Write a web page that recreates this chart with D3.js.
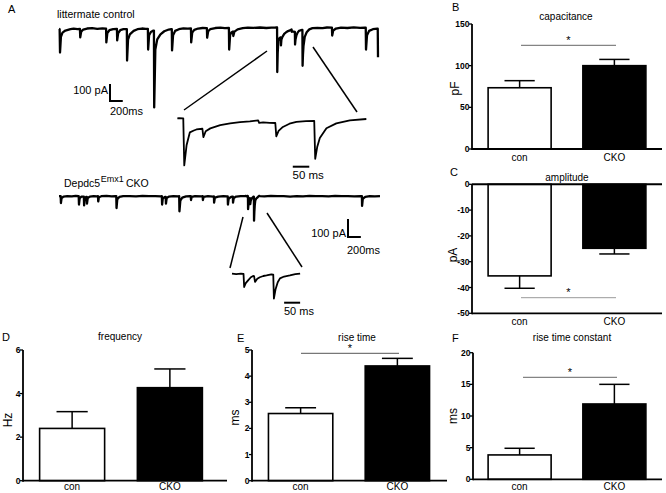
<!DOCTYPE html>
<html><head><meta charset="utf-8">
<script src="https://cdn.jsdelivr.net/npm/d3@7"></script>
<style>
html,body{margin:0;padding:0;background:#fff;}
text{font-family:"Liberation Sans",Arial,sans-serif;fill:#000;}
</style></head>
<body>
<svg id="fig" width="666" height="493"></svg>
<script>
// ---------------- DATA ----------------
const categories = ["con", "CKO"];

const capacitanceMean = [73.5, 100];
const capacitanceSem  = [8.5, 7.5];
const amplitudeMean   = [-35.5, -24.8];
const amplitudeSem    = [4.8, 2.2];
const frequencyMean   = [2.4, 4.27];
const frequencySem    = [0.77, 0.86];
const riseTimeMean    = [2.57, 4.39];
const riseTimeSem     = [0.22, 0.29];
const riseConstMean   = [3.85, 11.9];
const riseConstSem    = [1.05, 3.1];

const capacitanceTicks = [0, 50, 100, 150];
const amplitudeTicks   = [0, -10, -20, -30, -40, -50];
const frequencyTicks   = [0, 2, 4, 6];
const riseTimeTicks    = [0, 1, 2, 3, 4, 5];
const riseConstTicks   = [0, 5, 10, 15, 20];

// traces: [time ms, current pA]
const controlTrace = [
 [0,-8],[10,-9],[16,-147],[30,-55],[55,-30],[100,-18],[180,-10],[230,-7],[290,-9],
 [328,-8],[333,-58],[348,-24],[380,-12],[440,-6],[520,-4],[600,-8],[680,-5],
 [738,-7],[742,-88],[758,-32],[790,-16],[850,-9],
 [908,-8],[912,-76],[928,-32],[960,-16],[1010,-10],
 [1063,-9],[1067,-194],[1082,-72],[1110,-40],[1170,-20],[1230,-10],[1300,-6],[1360,-8],
 [1393,-8],[1397,-130],[1412,-46],[1440,-26],[1480,-18],
 [1488,-18],[1492,-470],[1510,-130],[1540,-70],[1590,-40],[1650,-22],[1720,-12],[1760,-10],
 [1768,-10],[1772,-135],[1788,-45],[1820,-20],[1880,-10],[1950,-5],[2020,-7],
 [2068,-6],[2072,-88],[2088,-30],[2120,-14],[2180,-6],[2250,-3],
 [2318,-4],[2322,-60],[2338,-22],[2370,-10],[2450,-3],[2530,-1],[2600,-4],
 [2663,-3],[2667,-130],[2682,-45],[2700,-30],[2728,-24],[2732,-50],[2750,-24],
 [2800,-11],[2880,-4],[2960,-1],[3050,-2],[3150,0],[3250,-3],[3330,-1],[3400,0],
 [3405,1],[3418,0],[3421,-262],[3428,-150],[3438,-78],[3450,-68],[3458,-62],[3476,-58],
 [3479,-105],[3486,-72],[3500,-56],[3530,-38],[3560,-28],[3590,-21],[3620,-17],[3645,-11],
 [3648,-25],[3660,-23],[3680,-25],[3697,-26],[3700,-100],[3707,-70],[3720,-48],[3740,-30],
 [3761,-20],[3790,-16],[3815,-14],[3818,-225],[3824,-160],[3832,-110],[3852,-55],
 [3882,-28],[3923,-11],[3973,-4],
 [4050,-2],[4130,-4],[4200,0],
 [4278,-1],[4282,-47],[4298,-18],[4340,-6],[4420,-1],[4520,-3],[4620,1],[4720,-2],[4790,-1],
 [4808,-1],[4812,-130],[4828,-45],[4860,-20],[4920,-10],[4990,-7],
 [4996,-7],[5000,-175]
];

const ckoTrace = [
 [0,-3],[26,-3],[30,-42],[40,-15],[70,-6],[130,-3],[200,-5],[260,-2],
 [307,-4],[311,-50],[322,-15],[350,-6],
 [387,-6],[391,-55],[402,-15],[420,-8],
 [433,-8],[436,-45],[447,-14],[480,-6],[540,-3],[590,-5],
 [607,-4],[611,-33],[622,-10],[660,-4],[740,-2],[820,-5],[880,-3],
 [892,-3],[896,-70],[908,-20],[940,-8],[1000,-4],[1100,-3],[1200,-5],[1300,-2],[1400,-4],[1500,-3],[1590,-5],
 [1602,-4],[1606,-50],[1617,-15],[1650,-8],
 [1662,-8],[1666,-45],[1677,-14],[1710,-6],[1780,-4],[1860,-5],
 [1872,-4],[1876,-88],[1890,-28],[1920,-12],[1980,-5],[2040,-4],
 [2053,-4],[2056,-25],[2066,-8],[2120,-3],[2220,-5],
 [2238,-4],[2241,-25],[2252,-8],[2320,-4],[2400,-6],
 [2413,-5],[2416,-40],[2428,-12],[2480,-6],[2560,-3],[2615,-5],
 [2628,-5],[2631,-50],[2642,-18],[2680,-8],[2700,-7],
 [2708,-7],[2711,-40],[2722,-14],[2760,-6],[2830,-4],[2900,-3],
 [2907,-2],[2920,-5],[2935,-2],[2943,-3],[2945,-76],[2950,-55],[2958,-38],[2966,-22],
 [2973,-15],[2976,-16],[2979,-48],[2986,-30],[2994,-22],[3005,-15],[3015,-12],[3030,-6],
 [3036,-7],[3038,-140],[3043,-90],[3050,-50],[3057,-28],[3070,-18],[3088,-12],[3105,-5],
 [3120,-2],[3130,-3],
 [3200,-5],[3300,-2],[3400,-4],[3500,-3],[3600,-6],[3700,-3],[3800,-5],[3900,-2],[4000,-4],
 [4100,-3],[4200,-5],[4300,-2],[4400,-4],[4500,-3],[4600,-5],[4700,-3],
 [4718,-3],[4721,-58],[4732,-18],[4770,-8],[4840,-4],[4920,-5],[5000,-3]
];

const controlZoomWindow = [3399, 3975];
const ckoZoomWindow = [2907, 3129];

// ---------------- DRAW ----------------
const svg = d3.select("#fig");

function txt(x, y, s, opt = {}) {
  const t = svg.append("text").attr("x", x).attr("y", y).text(s)
    .attr("font-size", opt.size || 10)
    .attr("text-anchor", opt.anchor || "start");
  if (opt.weight) t.attr("font-weight", opt.weight);
  if (opt.fill) t.style("fill", opt.fill);
  return t;
}

// ---- Panel A: traces ----
txt(8, 13, "A", {size: 11});
txt(57, 18, "littermate control", {size: 10.5});

const topX = d3.scaleLinear().domain([0, 5000]).range([59, 378]);
const topY = d3.scaleLinear().domain([0, -100]).range([27.5, 44.5]);
const topInX = d3.scaleLinear().domain(controlZoomWindow).range([177, 367]);
const topInY = d3.scaleLinear().domain([0, -100]).range([118.3, 136.3]);

const botX = d3.scaleLinear().domain([0, 5000]).range([59, 380]);
const botY = d3.scaleLinear().domain([0, -100]).range([195.5, 213.5]);
const botInX = d3.scaleLinear().domain(ckoZoomWindow).range([232, 303]);
const botInY = d3.scaleLinear().domain([0, -100]).range([273.3, 291.3]);

function trace(data, xs, ys, w) {
  svg.append("path").datum(data)
    .attr("d", d3.line().x(d => xs(d[0])).y(d => ys(d[1])))
    .attr("fill", "none").attr("stroke", "#000").attr("stroke-width", w)
    .attr("stroke-linejoin", "round");
}
const inWin = (data, w) => data.filter(d => d[0] >= w[0] && d[0] <= w[1]);

trace(controlTrace, topX, topY, 2.3);
trace(inWin(controlTrace, controlZoomWindow), topInX, topInY, 1.8);
trace(ckoTrace, botX, botY, 2.3);
trace(inWin(ckoTrace, ckoZoomWindow), botInX, botInY, 1.8);

function seg(x1, y1, x2, y2, w, c) {
  svg.append("line").attr("x1", x1).attr("y1", y1).attr("x2", x2).attr("y2", y2)
    .attr("stroke", c || "#000").attr("stroke-width", w);
}
// connector lines
seg(267, 51, 184, 110, 1.5);
seg(313, 47, 357, 112, 1.5);
seg(243, 217, 230, 268, 1.5);
seg(267, 213, 302, 267, 1.5);

// scale bars
function scaleBar(x, y, xs, ys, ms, pA) {
  const h = ys(-pA) - ys(0), w = xs(ms) - xs(0);
  svg.append("path").attr("d", `M${x},${y - h}V${y}H${x + w}`)
    .attr("fill", "none").attr("stroke", "#000").attr("stroke-width", 2);
}
scaleBar(110, 101, topX, topY, 200, 100);
txt(108, 94, "100 pA", {size: 11, anchor: "end"});
txt(110, 115, "200ms", {size: 11});

scaleBar(348, 237, botX, botY, 200, 100);
txt(346, 236.5, "100 pA", {size: 11, anchor: "end"});
txt(347, 254, "200ms", {size: 11});

seg(topInX(3750), 166.7, topInX(3800), 166.7, 2);
txt(292.5, 179, "50 ms", {size: 11.5});
seg(botInX(3070), 302.7, botInX(3120), 302.7, 2);
txt(284, 315, "50 ms", {size: 11});

txt(64, 187, "Depdc5", {size: 10.5});
txt(100.7, 181.5, "Emx1", {size: 9});
txt(126, 187, "CKO", {size: 10.5});

// ---- Bar panels ----
function barPanel(p) {
  const y = d3.scaleLinear().domain(p.domain).range(p.yRange);
  const x = d3.scaleBand().domain(categories).range(p.bandRange)
    .paddingInner(0.335).paddingOuter(0.17);
  const g = svg.append("g");
  const base = p.base !== undefined ? p.base : 0;
  // bars
  g.selectAll("rect.bar").data(categories).join("rect")
    .attr("x", d => x(d)).attr("width", x.bandwidth())
    .attr("y", (d, i) => Math.min(y(p.mean[i]), y(base)))
    .attr("height", (d, i) => Math.abs(y(p.mean[i]) - y(base)))
    .attr("fill", (d, i) => i === 0 ? "#fff" : "#000")
    .attr("stroke", "#000").attr("stroke-width", 1.6);
  // error bars
  categories.forEach((c, i) => {
    const cx = x(c) + x.bandwidth() / 2;
    const sign = p.mean[i] < 0 ? -1 : 1;
    const yTop = y(p.mean[i] + sign * p.sem[i]);
    seg(cx, y(p.mean[i]), cx, yTop, 1.5);
    seg(cx - x.bandwidth() * 0.24, yTop, cx + x.bandwidth() * 0.24, yTop, 1.5);
  });
  // y axis
  const [ya, yb] = p.yRange;
  seg(p.axisX, ya + 1, p.axisX, yb, 1.8);
  p.ticks.forEach(t => {
    seg(p.axisX - 3, y(t), p.axisX, y(t), 1.3);
    txt(p.axisX - 2.5, y(t) + 3, String(t), {size: 8.5, anchor: "end", weight: "bold"});
  });
  // x axis line
  seg(p.axisX, y(p.domain[0]), p.axisEnd, y(p.domain[0]), 1.8);
  if (p.zeroLine) seg(p.axisX, y(0), p.axisEnd, y(0), 2);
  // category labels
  categories.forEach(c => txt(x(c) + x.bandwidth() / 2, p.catY, c, {size: 10, anchor: "middle"}));
  // title, letter, y label
  txt(p.titleX, p.titleY, p.title, {size: 10, anchor: "middle"});
  txt(p.letter[1], p.letter[2], p.letter[0], {size: 11});
  svg.append("text").attr("transform", `translate(${p.ylabel[1]},${p.ylabel[2]}) rotate(-90)`)
    .attr("text-anchor", "middle").attr("dominant-baseline", "central")
    .attr("font-size", 12).text(p.ylabel[0]);
  // significance
  if (p.sig) {
    seg(p.sig[0], p.sig[2], p.sig[1], p.sig[2], 1, p.sig[3]);
    txt((p.sig[0] + p.sig[1]) / 2, p.sig[2] - 1.5, "*", {size: 11, anchor: "middle"});
  }
}

barPanel({mean: capacitanceMean, sem: capacitanceSem, ticks: capacitanceTicks,
  domain: [0, 150], yRange: [149, 24], axisX: 472, axisEnd: 662, bandRange: [472, 662],
  catY: 160.5, title: "capacitance", titleX: 566, titleY: 20, letter: ["B", 452, 11],
  ylabel: ["pF", 455, 88.5], sig: [521, 616, 45.3, "#666"]});

barPanel({mean: amplitudeMean, sem: amplitudeSem, ticks: amplitudeTicks,
  domain: [-50, 0], yRange: [313.3, 184.3], axisX: 472, axisEnd: 662, bandRange: [472, 662],
  zeroLine: true, catY: 325, title: "amplitude", titleX: 567, titleY: 181, letter: ["C", 450, 176],
  ylabel: ["pA", 453, 255], sig: [521, 616, 297.7, "#999"]});

barPanel({mean: frequencyMean, sem: frequencySem, ticks: frequencyTicks,
  domain: [0, 6], yRange: [480.7, 350], axisX: 23, axisEnd: 227, bandRange: [23, 219],
  catY: 490, title: "frequency", titleX: 120, titleY: 340, letter: ["D", 2, 341],
  ylabel: ["Hz", 7.5, 420]});

barPanel({mean: riseTimeMean, sem: riseTimeSem, ticks: riseTimeTicks,
  domain: [0, 5], yRange: [480.7, 350], axisX: 252, axisEnd: 447, bandRange: [252, 446],
  catY: 490, title: "rise time", titleX: 357, titleY: 341, letter: ["E", 237, 342],
  ylabel: ["ms", 235, 417.5], sig: [301, 399, 353.3, "#555"]});

barPanel({mean: riseConstMean, sem: riseConstSem, ticks: riseConstTicks,
  domain: [0, 20], yRange: [479.3, 352.7], axisX: 473, axisEnd: 662, bandRange: [472, 662],
  catY: 490, title: "rise time constant", titleX: 572, titleY: 341, letter: ["F", 452, 342],
  ylabel: ["ms", 453, 416], sig: [523, 617, 377.3, "#666"]});
</script>
</body></html>
